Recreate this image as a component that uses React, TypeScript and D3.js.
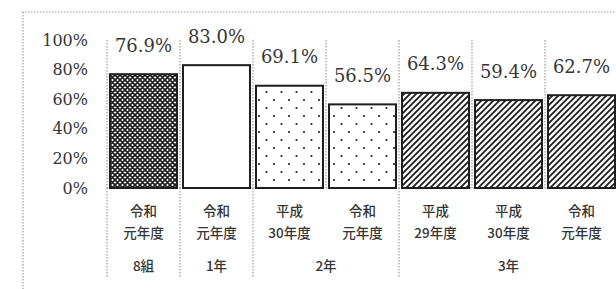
import React from "react";
import * as d3 from "d3";

const line1 = ["令和", "令和", "平成", "令和", "平成", "平成", "令和"];
const line2 = ["元年度", "元年度", "30年度", "元年度", "29年度", "30年度", "元年度"];
const values = [76.9, 83.0, 69.1, 56.5, 64.3, 59.4, 62.7];
const fills = ["cross", "none", "dots", "dots", "diag", "diag", "diag"];
const groups = [
  { label: "8組", from: 0, to: 0 },
  { label: "1年", from: 1, to: 1 },
  { label: "2年", from: 2, to: 3 },
  { label: "3年", from: 4, to: 6 },
];
const ticks = [0, 20, 40, 60, 80, 100];

const W = 616;
const H = 289;

export default function App() {
  const idx = values.map((_, i) => String(i));
  const x = d3
    .scaleBand<string>()
    .domain(idx)
    .range([107, 618])
    .paddingInner(6 / 73)
    .paddingOuter(3 / 73);
  const step = x.step();
  const x0 = 107;
  const y = d3.scaleLinear().domain([0, 100]).range([188, 40]);

  const numFont = "'DejaVu Serif', serif";
  const cjkFont = "'Noto Sans CJK JP', sans-serif";
  const textCol = "#353535";
  const dotted = { stroke: "#9a9a9a", strokeWidth: 1.2, strokeDasharray: "1.5,1.5" };

  const groupBounds = new Set<number>();
  groups.forEach((g) => {
    groupBounds.add(g.from);
    groupBounds.add(g.to + 1);
  });

  return (
    <svg
      width={W}
      height={H}
      style={{ position: "absolute", left: 0, top: 0, background: "#fff" }}
    >
      <defs>
        <pattern id="cross" patternUnits="userSpaceOnUse" width={5} height={5}>
          <rect width={5} height={5} fill="#fff" />
          <path d="M0,0 L5,5 M0,5 L5,0 M-1,4 L1,6 M4,-1 L6,1 M-1,1 L1,-1 M4,6 L6,4" stroke="#1e1e1e" strokeWidth={1.7} />
        </pattern>
        <pattern id="dots" patternUnits="userSpaceOnUse" width={15} height={16}>
          <rect width={15} height={16} fill="#fff" />
          <circle cx={4} cy={4} r={1.1} fill="#222" />
          <circle cx={11.5} cy={12} r={1.1} fill="#222" />
        </pattern>
        <pattern id="diag" patternUnits="userSpaceOnUse" width={6} height={6}>
          <rect width={6} height={6} fill="#fff" />
          <path d="M0,6 L6,0 M-1,1 L1,-1 M5,7 L7,5" stroke="#1e1e1e" strokeWidth={1.8} />
        </pattern>
      </defs>

      <line x1={22} x2={W} y1={12} y2={12} {...dotted} />
      <line x1={23} x2={23} y1={12} y2={H} {...dotted} />

      {ticks.map((t) => (
        <text
          key={t}
          x={88}
          y={y(t)}
          textAnchor="end"
          dominantBaseline="central"
          fontFamily={numFont}
          fontSize={16}
          fill={textCol}
        >
          {t}%
        </text>
      ))}

      <line x1={x0} x2={W} y1={y(0)} y2={y(0)} {...dotted} />

      {d3.range(values.length + 1).map((i) => (
        <line
          key={"s" + i}
          x1={x0 + i * step}
          x2={x0 + i * step}
          y1={y(100)}
          y2={y(0)}
          {...dotted}
        />
      ))}
      {d3.range(values.length + 1)
        .filter((i) => groupBounds.has(i))
        .map((i) => (
          <line
            key={"c" + i}
            x1={x0 + i * step}
            x2={x0 + i * step}
            y1={y(0)}
            y2={277}
            {...dotted}
          />
        ))}

      {values.map((v, i) => (
        <rect
          key={"b" + i}
          x={x(String(i))}
          y={y(v)}
          width={x.bandwidth()}
          height={y(0) - y(v)}
          fill={fills[i] === "none" ? "#fff" : `url(#${fills[i]})`}
          stroke="#1e1e1e"
          strokeWidth={2}
        />
      ))}

      {values.map((v, i) => (
        <text
          key={"v" + i}
          x={(x(String(i)) as number) + x.bandwidth() / 2}
          y={y(v) - 29}
          textAnchor="middle"
          dominantBaseline="central"
          fontFamily={numFont}
          fontSize={18}
          fill={textCol}
        >
          {v.toFixed(1)}%
        </text>
      ))}

      {values.map((_, i) => {
        const cx = x0 + (i + 0.5) * step;
        return (
          <g key={"l" + i} fontFamily={cjkFont} fontSize={13.5} fontWeight={500} fill={textCol}>
            <text x={cx} y={210} textAnchor="middle" dominantBaseline="central">
              {line1[i]}
            </text>
            <text x={cx} y={232} textAnchor="middle" dominantBaseline="central">
              {line2[i]}
            </text>
          </g>
        );
      })}
      {groups.map((g) => (
        <text
          key={g.label}
          x={x0 + ((g.from + g.to + 1) / 2) * step}
          y={265}
          textAnchor="middle"
          dominantBaseline="central"
          fontFamily={cjkFont}
          fontSize={13.5}
          fontWeight={500}
          fill={textCol}
        >
          {g.label}
        </text>
      ))}
    </svg>
  );
}
